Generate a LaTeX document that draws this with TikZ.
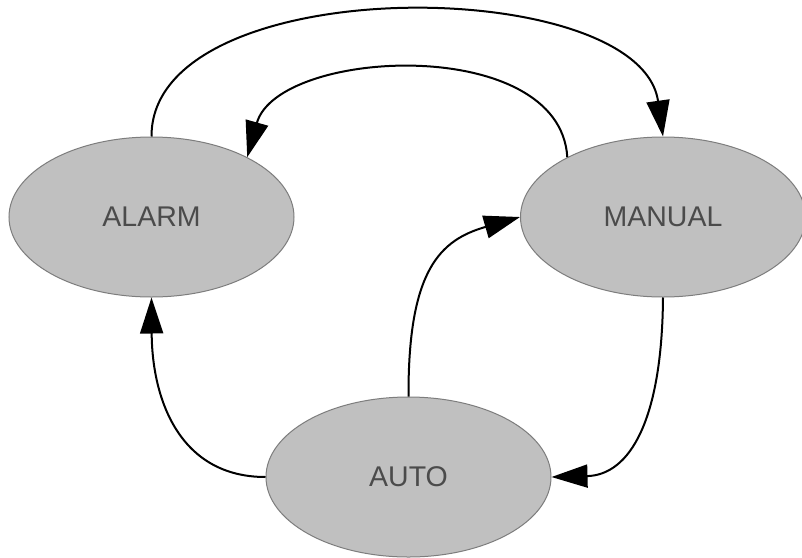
\documentclass[tikz,border=0pt]{standalone}
\usepackage{fontspec}
\setmainfont{Liberation Sans}
\usetikzlibrary{shapes.geometric,arrows.meta}
\definecolor{statefill}{RGB}{192,192,192}
\definecolor{stateline}{RGB}{125,125,125}
\definecolor{statetext}{RGB}{75,75,75}
\tikzset{
  state/.style={ellipse, draw=stateline, line width=1pt, fill=statefill,
    minimum width=285pt, minimum height=160pt, inner sep=0pt,
    text=statetext, font=\fontsize{28.5pt}{30pt}\selectfont},
  trans/.style={draw=black, line width=2pt,
    -{Triangle[length=36pt,width=23pt]}}
}
\begin{document}
\begin{tikzpicture}[x=1pt,y=-1pt]
\useasboundingbox[fill=white] (0,0) rectangle (802,557);
\node[state] (alarm)  at (151.5,217) {ALARM};
\node[state] (manual) at (663,217) {MANUAL};
\node[state] (auto)   at (408.5,477) {AUTO};
\draw[trans] (alarm.north) .. controls (151,-31) and (640,-27) .. (manual.north);
\draw[trans] (manual.148) .. controls (560,34) and (278,48) .. (alarm.32);
\draw[trans] (auto.north) .. controls (408,270) and (440,240) .. (manual.west);
\draw[trans] (manual.south) .. controls (662,420) and (630,475) .. (auto.east);
\draw[trans] (auto.west) .. controls (180,477) and (152,400) .. (alarm.south);
\end{tikzpicture}
\end{document}
